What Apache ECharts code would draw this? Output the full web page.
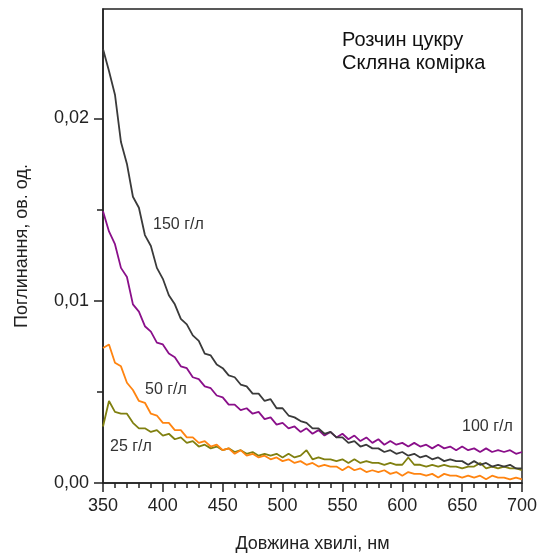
<!DOCTYPE html>
<html>
<head>
    <meta charset="UTF-8">
    <title>Поглинання розчину цукру</title>
    <script src="https://cdn.jsdelivr.net/npm/echarts@6/dist/echarts.min.js"></script>
    <style>
        body { margin: 0; background: #fff; }
        #chart { width: 546px; height: 554px; }
    </style>
</head>
<body>
    <div id="chart"></div>
    <script>
        // довжина хвилі, нм
        const wavelength = [
            350, 355, 360, 365, 370, 375, 380, 385, 390, 395,
            400, 405, 410, 415, 420, 425, 430, 435, 440, 445,
            450, 455, 460, 465, 470, 475, 480, 485, 490, 495,
            500, 505, 510, 515, 520, 525, 530, 535, 540, 545,
            550, 555, 560, 565, 570, 575, 580, 585, 590, 595,
            600, 605, 610, 615, 620, 625, 630, 635, 640, 645,
            650, 655, 660, 665, 670, 675, 680, 685, 690, 695,
            700
        ];

        // 150 г/л
        const conc150 = [
            0.0238, 0.0226, 0.0213, 0.0187, 0.0175, 0.0157, 0.0151, 0.0136, 0.0130, 0.0118,
            0.0112, 0.0103, 0.0098, 0.0090, 0.0087, 0.0081, 0.0078, 0.0071, 0.0070, 0.0065,
            0.0063, 0.0059, 0.0058, 0.0054, 0.0053, 0.0049, 0.0049, 0.0045, 0.0046, 0.0041,
            0.0041, 0.0037, 0.0036, 0.0034, 0.0033, 0.0030, 0.0030, 0.0027, 0.0028, 0.0025,
            0.0025, 0.0022, 0.0023, 0.0020, 0.0021, 0.0019, 0.0019, 0.0017, 0.0018, 0.0016,
            0.0017, 0.0015, 0.0016, 0.0014, 0.0015, 0.0013, 0.0014, 0.0012, 0.0013, 0.0012,
            0.0012, 0.0010, 0.0012, 0.0010, 0.0011, 0.0009, 0.0010, 0.0009, 0.0010, 0.0008,
            0.0008
        ];

        // 100 г/л
        const conc100 = [
            0.0149, 0.0138, 0.0131, 0.0118, 0.0113, 0.0098, 0.0094, 0.0086, 0.0083, 0.0077,
            0.0076, 0.0071, 0.0069, 0.0064, 0.0063, 0.0058, 0.0057, 0.0053, 0.0052, 0.0048,
            0.0047, 0.0043, 0.0043, 0.0040, 0.0041, 0.0038, 0.0039, 0.0035, 0.0036, 0.0032,
            0.0033, 0.0030, 0.0031, 0.0028, 0.0030, 0.0027, 0.0029, 0.0026, 0.0028, 0.0025,
            0.0027, 0.0024, 0.0026, 0.0023, 0.0025, 0.0022, 0.0024, 0.0021, 0.0023, 0.0021,
            0.0022, 0.0020, 0.0022, 0.0020, 0.0021, 0.0019, 0.0021, 0.0019, 0.0020, 0.0018,
            0.0020, 0.0018, 0.0019, 0.0017, 0.0019, 0.0017, 0.0018, 0.0017, 0.0018, 0.0016,
            0.0017
        ];

        // 50 г/л
        const conc50 = [
            0.0074, 0.0076, 0.0066, 0.0064, 0.0055, 0.0051, 0.0045, 0.0044, 0.0038, 0.0037,
            0.0033, 0.0033, 0.0029, 0.0029, 0.0025, 0.0025, 0.0022, 0.0023, 0.0020, 0.0021,
            0.0018, 0.0019, 0.0016, 0.0018, 0.0015, 0.0016, 0.0014, 0.0015, 0.0013, 0.0014,
            0.0012, 0.0013, 0.0011, 0.0012, 0.0010, 0.0011, 0.0009, 0.0010, 0.0009, 0.0009,
            0.0007, 0.0009, 0.0007, 0.0008, 0.0006, 0.0007, 0.0006, 0.0007, 0.0005, 0.0006,
            0.0004, 0.0006, 0.0005, 0.0005, 0.0004, 0.0005, 0.0003, 0.0005, 0.0004, 0.0004,
            0.0003, 0.0004, 0.0003, 0.0004, 0.0002, 0.0004, 0.0003, 0.0003, 0.0002, 0.0003,
            0.0002
        ];

        // 25 г/л
        const conc25 = [
            0.0031, 0.0045, 0.0039, 0.0038, 0.0038, 0.0033, 0.0030, 0.0030, 0.0028, 0.0029,
            0.0026, 0.0027, 0.0024, 0.0025, 0.0022, 0.0023, 0.0020, 0.0021, 0.0019, 0.0020,
            0.0018, 0.0019, 0.0017, 0.0018, 0.0016, 0.0017, 0.0015, 0.0016, 0.0015, 0.0016,
            0.0014, 0.0016, 0.0014, 0.0015, 0.0018, 0.0013, 0.0014, 0.0013, 0.0013, 0.0012,
            0.0013, 0.0011, 0.0013, 0.0011, 0.0012, 0.0011, 0.0011, 0.0010, 0.0011, 0.0010,
            0.0010, 0.0014, 0.0010, 0.0010, 0.0009, 0.0010, 0.0009, 0.0010, 0.0009, 0.0009,
            0.0008, 0.0009, 0.0009, 0.0011, 0.0008, 0.0009, 0.0008, 0.0009, 0.0008, 0.0008,
            0.0007
        ];

        const seriesNames = ['150 г/л', '100 г/л', '50 г/л', '25 г/л'];
        const seriesColors = ['#3a3a3a', '#8a0f8a', '#ff8410', '#808010'];
        const seriesValues = [conc150, conc100, conc50, conc25];

        const yMajor = [0, 0.01, 0.02];
        const yMinor = [0.005, 0.015];

        const font = 'Arial, "Liberation Sans", sans-serif';
        const axisColor = '#222';

        const chart = echarts.init(document.getElementById('chart'));

        const commonY = {
            type: 'value',
            min: 0,
            max: 0.026,
            splitLine: { show: false }
        };

        const option = {
            animation: false,
            backgroundColor: '#fff',
            grid: {
                left: 103, top: 9, right: 24, bottom: 71,
                containLabel: false,
                outerBoundsMode: 'none',
                show: true,
                borderColor: axisColor,
                borderWidth: 1.5
            },
            xAxis: {
                type: 'value',
                min: 350,
                max: 700,
                interval: 50,
                name: 'Довжина хвилі, нм',
                nameLocation: 'middle',
                nameGap: 52,
                nameTextStyle: { fontFamily: font, fontSize: 18, color: axisColor },
                axisLine: { lineStyle: { color: axisColor, width: 1.5 } },
                axisTick: { inside: false, length: 9, lineStyle: { color: axisColor, width: 1.5 } },
                minorTick: { show: true, splitNumber: 5, length: 5, lineStyle: { color: axisColor, width: 1.5 } },
                axisLabel: { fontFamily: font, fontSize: 18, color: axisColor, margin: 14 },
                splitLine: { show: false },
                minorSplitLine: { show: false }
            },
            yAxis: [
                Object.assign({}, commonY, {
                    name: 'Поглинання, ов. од.',
                    nameLocation: 'middle',
                    nameGap: 72,
                    nameTextStyle: { fontFamily: font, fontSize: 18, color: axisColor },
                    axisLine: { show: true, lineStyle: { color: axisColor, width: 1.5 } },
                    axisTick: { show: true, inside: false, length: 9, customValues: yMajor, lineStyle: { color: axisColor, width: 1.5 } },
                    axisLabel: {
                        fontFamily: font, fontSize: 18, color: axisColor, margin: 14,
                        customValues: yMajor,
                        formatter: v => v.toFixed(2).replace('.', ',')
                    }
                }),
                Object.assign({}, commonY, {
                    position: 'left',
                    axisLine: { show: false },
                    axisTick: { show: true, inside: false, length: 6, customValues: yMinor, lineStyle: { color: axisColor, width: 1.5 } },
                    axisLabel: { show: false }
                })
            ],
            series: seriesValues.map((vals, i) => ({
                name: seriesNames[i],
                type: 'line',
                yAxisIndex: 0,
                data: wavelength.map((w, j) => [w, vals[j]]),
                showSymbol: false,
                lineStyle: { color: seriesColors[i], width: 1.8 },
                z: 4 - i
            })),
            graphic: [
                { type: 'text', left: 342, top: 30, style: { text: 'Розчин цукру', fontFamily: font, fontSize: 20, fill: '#111' } },
                { type: 'text', left: 342, top: 53, style: { text: 'Скляна комірка', fontFamily: font, fontSize: 20, fill: '#111' } },
                { type: 'text', left: 153, top: 217, style: { text: '150 г/л', fontFamily: font, fontSize: 16, fill: '#333' } },
                { type: 'text', left: 462, top: 419, style: { text: '100 г/л', fontFamily: font, fontSize: 16, fill: '#333' } },
                { type: 'text', left: 145, top: 382, style: { text: '50 г/л', fontFamily: font, fontSize: 16, fill: '#333' } },
                { type: 'text', left: 110, top: 439, style: { text: '25 г/л', fontFamily: font, fontSize: 16, fill: '#333' } }
            ]
        };

        chart.setOption(option);
    </script>
</body>
</html>
